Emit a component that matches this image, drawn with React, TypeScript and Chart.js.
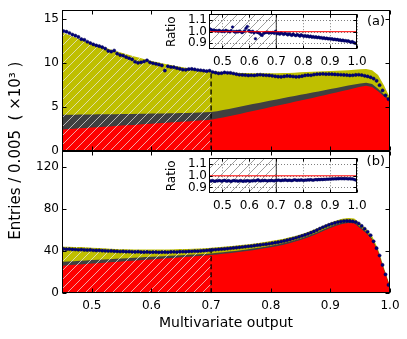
import { useEffect, useRef } from "react";
import { Chart, registerables } from "chart.js";

Chart.register(...registerables);

// ---------------- data ----------------
const mcX = [
  0.45, 0.46, 0.47, 0.48, 0.49, 0.50, 0.51, 0.52, 0.53, 0.54,
  0.55, 0.56, 0.57, 0.58, 0.59, 0.60, 0.61, 0.62, 0.63, 0.64,
  0.65, 0.66, 0.67, 0.68, 0.69, 0.70, 0.71, 0.72, 0.73, 0.74,
  0.75, 0.76, 0.77, 0.78, 0.79, 0.80, 0.81, 0.82, 0.83, 0.84,
  0.85, 0.86, 0.87, 0.88, 0.89, 0.90, 0.91, 0.92, 0.93, 0.94,
  0.95, 0.96, 0.97, 0.98, 0.99, 1.00,
];

// panel (a), units of 10^3 entries
const aSignal = [
  2.40, 2.44, 2.48, 2.53, 2.57, 2.62, 2.66, 2.70, 2.75, 2.79,
  2.84, 2.88, 2.92, 2.97, 3.01, 3.06, 3.10, 3.14, 3.19, 3.23,
  3.28, 3.32, 3.37, 3.41, 3.46, 3.52, 3.64, 3.77, 3.91, 4.05,
  4.20, 4.35, 4.50, 4.65, 4.80, 4.95, 5.10, 5.25, 5.40, 5.55,
  5.70, 5.85, 6.00, 6.15, 6.30, 6.46, 6.62, 6.78, 6.94, 7.10,
  7.26, 7.38, 7.25, 6.75, 6.15, 5.65,
];
const aBkgDark = [
  1.68, 1.64, 1.60, 1.57, 1.53, 1.49, 1.46, 1.42, 1.39, 1.35,
  1.32, 1.28, 1.25, 1.22, 1.18, 1.15, 1.12, 1.09, 1.06, 1.03,
  1.00, 0.97, 0.94, 0.92, 0.89, 0.86, 0.85, 0.84, 0.83, 0.82,
  0.81, 0.80, 0.79, 0.77, 0.76, 0.75, 0.73, 0.71, 0.69, 0.67,
  0.65, 0.63, 0.61, 0.59, 0.57, 0.55, 0.52, 0.49, 0.46, 0.42,
  0.38, 0.35, 0.32, 0.28, 0.24, 0.20,
];
const aBkgOlive = [
  9.37, 9.12, 8.87, 8.60, 8.35, 8.09, 7.88, 7.66, 7.42, 7.21,
  6.99, 6.79, 6.59, 6.38, 6.20, 6.01, 5.84, 5.68, 5.52, 5.38,
  5.24, 5.12, 5.00, 4.89, 4.79, 4.69, 4.52, 4.35, 4.18, 4.01,
  3.84, 3.68, 3.52, 3.38, 3.24, 3.10, 2.98, 2.87, 2.76, 2.66,
  2.56, 2.46, 2.36, 2.26, 2.16, 2.05, 1.95, 1.85, 1.76, 1.68,
  1.62, 1.57, 1.58, 1.57, 1.01, 0.15,
];
const aData = [
  13.62, 13.55, 13.40, 13.22, 13.10, 12.95, 12.70, 12.62, 12.40, 12.25,
  12.10, 11.98, 11.90, 11.78, 11.62, 11.35, 11.28, 11.40, 11.05, 10.88,
  10.82, 10.66, 10.52, 10.40, 10.12, 10.00, 10.05, 10.15, 10.28, 10.05,
  9.95, 9.88, 9.80, 9.70, 9.12, 9.60, 9.52, 9.50, 9.40, 9.32,
  9.22, 9.20, 9.28, 9.30, 9.25, 9.18, 9.15, 9.10, 9.05, 9.10,
  8.95, 8.88, 8.80, 8.82, 8.90, 8.86, 8.85, 8.78, 8.70, 8.64,
  8.62, 8.60, 8.56, 8.58, 8.56, 8.62, 8.64, 8.60, 8.58, 8.56,
  8.52, 8.46, 8.42, 8.40, 8.45, 8.50, 8.48, 8.44, 8.40, 8.42,
  8.48, 8.56, 8.60, 8.58, 8.66, 8.70, 8.72, 8.74, 8.70, 8.72,
  8.70, 8.68, 8.66, 8.64, 8.62, 8.60, 8.56, 8.58, 8.62, 8.64,
  8.60, 8.52, 8.45, 8.35, 8.20, 7.95, 7.45, 6.85, 6.30, 5.85,
];
const aRatio = [
  1.025, 1.018, 1.012, 1.015, 1.008, 1.010, 1.004, 1.012, 1.006, 1.002,
  1.008, 1.000, 1.012, 1.006, 1.004, 0.998, 1.010, 1.040, 1.002, 0.996,
  1.004, 0.998, 1.006, 1.000, 0.992, 0.998, 1.008, 1.030, 1.045, 1.010,
  1.002, 0.996, 1.004, 0.990, 0.940, 0.996, 0.992, 0.986, 0.975, 0.968,
  0.985, 0.990, 0.994, 0.996, 0.988, 0.992, 0.990, 0.994, 0.986, 1.004,
  0.982, 0.988, 0.978, 0.990, 0.984, 0.976, 0.986, 0.980, 0.972, 0.982,
  0.975, 0.968, 0.980, 0.972, 0.966, 0.976, 0.970, 0.962, 0.974, 0.966,
  0.960, 0.968, 0.958, 0.964, 0.955, 0.962, 0.952, 0.958, 0.950, 0.956,
  0.948, 0.954, 0.946, 0.950, 0.942, 0.948, 0.940, 0.945, 0.938, 0.942,
  0.936, 0.940, 0.932, 0.936, 0.930, 0.934, 0.926, 0.930, 0.922, 0.928,
  0.920, 0.924, 0.918, 0.922, 0.914, 0.910, 0.915, 0.906, 0.902, 0.900,
];

// panel (b)
const bSignal = [
  26.3, 26.7, 27.1, 27.5, 27.9, 28.3, 28.7, 29.1, 29.5, 29.9,
  30.3, 30.7, 31.1, 31.5, 31.9, 32.3, 32.7, 33.1, 33.5, 33.9,
  34.3, 34.7, 35.1, 35.5, 35.9, 36.4, 37.0, 37.6, 38.2, 38.8,
  39.5, 40.2, 41.0, 41.9, 42.8, 43.8, 44.9, 46.1, 47.5, 49.0,
  50.7, 52.6, 54.8, 57.2, 59.7, 62.2, 64.4, 66.0, 66.9, 66.6,
  62.0, 57.5, 51.0, 39.5, 22.0, 6.0,
];
const bBkgDark = [
  3.7, 3.6, 3.5, 3.4, 3.4, 3.3, 3.2, 3.1, 3.0, 3.0,
  2.9, 2.8, 2.7, 2.6, 2.6, 2.5, 2.4, 2.3, 2.2, 2.1,
  2.0, 1.9, 1.8, 1.7, 1.6, 1.6, 1.6, 1.6, 1.6, 1.6,
  1.6, 1.6, 1.6, 1.6, 1.6, 1.6, 1.6, 1.6, 1.6, 1.5,
  1.5, 1.5, 1.5, 1.5, 1.5, 1.4, 1.4, 1.4, 1.3, 1.3,
  1.2, 1.1, 1.0, 0.8, 0.6, 0.3,
];
const bBkgOlive = [
  14.4, 14.0, 13.6, 13.1, 12.5, 11.8, 11.2, 10.6, 10.0, 9.4,
  8.8, 8.4, 8.0, 7.6, 7.2, 6.9, 6.6, 6.3, 6.1, 5.9,
  5.8, 5.7, 5.6, 5.5, 5.4, 5.3, 5.2, 5.1, 5.0, 4.9,
  4.8, 4.7, 4.6, 4.5, 4.4, 4.3, 4.2, 4.1, 4.0, 3.9,
  3.8, 3.8, 3.7, 3.7, 3.6, 3.6, 3.5, 3.5, 3.4, 3.4,
  3.2, 2.9, 2.5, 2.0, 1.4, 0.6,
];
const bData = [
  42.3, 42.0, 42.1, 41.8, 41.7, 41.5, 41.6, 41.3, 41.2, 41.3,
  41.0, 40.8, 40.9, 40.6, 40.5, 40.3, 40.4, 40.1, 40.0, 39.8,
  39.9, 39.6, 39.7, 39.5, 39.4, 39.6, 39.3, 39.2, 39.4, 39.1,
  39.2, 39.3, 39.0, 39.2, 39.3, 39.1, 39.4, 39.5, 39.3, 39.6,
  39.7, 39.6, 39.9, 40.0, 40.2, 40.1, 40.4, 40.6, 40.8, 41.1,
  41.4, 41.6, 41.9, 42.1, 42.3, 42.6, 42.9, 43.2, 43.5, 43.8,
  44.1, 44.4, 44.7, 45.0, 45.4, 45.8, 46.1, 46.5, 46.8, 47.2,
  47.7, 48.2, 48.7, 49.3, 49.9, 50.6, 51.3, 52.1, 52.9, 53.8,
  54.7, 55.6, 56.6, 57.7, 58.9, 60.2, 61.6, 62.9, 64.1, 65.2,
  66.2, 67.0, 67.8, 68.4, 68.8, 69.0, 68.9, 68.6, 67.9, 66.5,
  64.2, 61.5, 58.6, 55.3, 49.5, 43.0, 36.0, 27.0, 18.0, 8.0,
];
const bRatio = [
  0.958, 0.954, 0.960, 0.956, 0.952, 0.958, 0.955, 0.960, 0.957, 0.953,
  0.958, 0.962, 0.956, 0.954, 0.959, 0.955, 0.951, 0.957, 0.960, 0.955,
  0.958, 0.953, 0.956, 0.960, 0.955, 0.952, 0.957, 0.954, 0.959, 0.956,
  0.953, 0.958, 0.955, 0.960, 0.956, 0.961, 0.966, 0.958, 0.955, 0.960,
  0.957, 0.962, 0.958, 0.955, 0.960, 0.957, 0.961, 0.958, 0.956, 0.962,
  0.960, 0.964, 0.961, 0.958, 0.963, 0.960, 0.965, 0.962, 0.959, 0.963,
  0.961, 0.958, 0.962, 0.966, 0.963, 0.960, 0.964, 0.961, 0.965, 0.962,
  0.960, 0.964, 0.962, 0.966, 0.963, 0.967, 0.964, 0.962, 0.966, 0.968,
  0.965, 0.969, 0.966, 0.970, 0.967, 0.971, 0.968, 0.972, 0.970, 0.973,
  0.971, 0.974, 0.972, 0.975, 0.973, 0.976, 0.974, 0.977, 0.975, 0.976,
  0.974, 0.977, 0.975, 0.973, 0.976, 0.972, 0.974, 0.970, 0.966, 0.962,
];

const xTicks = [0.5, 0.6, 0.7, 0.8, 0.9, 1.0];
const yTicksA = [0, 5, 10, 15];
const yTicksB = [0, 40, 80, 120];
const ratioTicks = [0.9, 1.0, 1.1];

const X_MIN = 0.45;
const X_MAX = 1.0;
const BIN_WIDTH = 0.005;
const CUT = 0.7;
const Y_MAX_A = 16;
const Y_MAX_B = 136;
const RATIO_MIN = 0.85;
const RATIO_MAX = 1.15;
const RATIO_REF = 1.0;
const Y_TITLE = "Entries / 0.005  ( \u00d710\u00b3 )";
const X_TITLE = "Multivariate output";

// ---------------- layout / style ----------------
const W = 407;
const H = 339;
const FONT = "'DejaVu Sans'";
const RED = "#ff0000";
const DARK = "#404040";
const OLIVE = "#bfbf00";
const NAVY = "#000080";
const PLOT_L = 62;
const PLOT_R = 390;
const TOP_A = 8;
const MID = 150.5;
const BOT_B = 293.3;

const binCenters = aData.map((_, i) => +(X_MIN + BIN_WIDTH * (i + 0.5)).toFixed(4));
const xy = (xs: number[], ys: number[]) => xs.map((x, i) => ({ x, y: ys[i] }));
const cumulate = (...arrs: number[][]) => arrs[0].map((_, i) => arrs.reduce((s, a) => s + a[i], 0));

function makeHatch(color: string, size: number) {
  const c = document.createElement("canvas");
  c.width = size;
  c.height = size;
  const g = c.getContext("2d")!;
  g.strokeStyle = color;
  g.lineWidth = 1;
  g.beginPath();
  g.moveTo(0, size);
  g.lineTo(size, 0);
  g.moveTo(-size / 2, size / 2);
  g.lineTo(size / 2, -size / 2);
  g.moveTo(size / 2, size * 1.5);
  g.lineTo(size * 1.5, size / 2);
  g.stroke();
  return g.createPattern(c, "repeat")!;
}

function decor(o: any) {
  return {
    id: "decor",
    beforeDatasetsDraw(chart: any) {
      const { ctx, chartArea: a, scales } = chart;
      ctx.save();
      if (o.bg) {
        ctx.fillStyle = "#fff";
        ctx.fillRect(a.left, a.top, a.right - a.left, a.bottom - a.top);
      }
      if (o.grid) {
        ctx.strokeStyle = "#808080";
        ctx.lineWidth = 1;
        ctx.setLineDash([1, 2]);
        ctx.beginPath();
        for (const v of o.xTicks) {
          const p = Math.round(scales.x.getPixelForValue(v)) + 0.5;
          ctx.moveTo(p, a.top);
          ctx.lineTo(p, a.bottom);
        }
        for (const v of o.yTicks) {
          const p = Math.round(scales.y.getPixelForValue(v)) + 0.5;
          ctx.moveTo(a.left, p);
          ctx.lineTo(a.right, p);
        }
        ctx.stroke();
      }
      ctx.restore();
    },
    afterDatasetsDraw(chart: any) {
      const { ctx, chartArea: a, scales } = chart;
      const L = Math.round(a.left) + 0.5;
      const R = Math.round(a.right) - 0.5;
      const T = Math.round(a.top) + 0.5;
      const B = Math.round(a.bottom) - 0.5;
      ctx.save();
      ctx.strokeStyle = "#000";
      ctx.lineWidth = 1;
      ctx.setLineDash([]);
      ctx.strokeRect(L, T, R - L, B - T);
      ctx.beginPath();
      const t = o.tick;
      for (const v of o.xTicks) {
        const p = Math.round(scales.x.getPixelForValue(v)) + 0.5;
        ctx.moveTo(p, B);
        ctx.lineTo(p, B - t);
        ctx.moveTo(p, T);
        ctx.lineTo(p, T + t);
      }
      for (const v of o.yTicks) {
        const p = Math.round(scales.y.getPixelForValue(v)) + 0.5;
        ctx.moveTo(L, p);
        ctx.lineTo(L + t, p);
        ctx.moveTo(R, p);
        ctx.lineTo(R - t, p);
      }
      ctx.stroke();
      ctx.fillStyle = "#000";
      if (o.tag) {
        ctx.font = `13px ${FONT}`;
        ctx.textAlign = "right";
        ctx.textBaseline = "middle";
        ctx.fillText(o.tag, a.right - 5, a.top + 11);
      }
      if (o.yTitle) {
        ctx.font = `15px ${FONT}`;
        ctx.textAlign = "center";
        ctx.textBaseline = "middle";
        ctx.translate(16, (TOP_A + a.bottom) / 2);
        ctx.rotate(-Math.PI / 2);
        ctx.fillText(o.yTitle, 0, 0);
      }
      ctx.restore();
    },
  };
}

const tickFont = { family: FONT, size: 12 };

function mainConfig(which: "a" | "b", hatch: CanvasPattern): any {
  const isA = which === "a";
  const sig = isA ? aSignal : bSignal;
  const dark = isA ? aBkgDark : bBkgDark;
  const olive = isA ? aBkgOlive : bBkgOlive;
  const data = isA ? aData : bData;
  const yTicks = isA ? yTicksA : yTicksB;
  const t1 = sig;
  const t2 = cumulate(sig, dark);
  const t3 = cumulate(sig, dark, olive);
  const cutIdx = mcX.findIndex((x) => Math.abs(x - CUT) < 1e-9);
  const area = { borderWidth: 0, borderColor: "transparent", pointRadius: 0, tension: 0 };
  return {
    type: "line",
    data: {
      datasets: [
        { ...area, data: xy(mcX, t3), fill: "origin", backgroundColor: OLIVE, order: 9 },
        { ...area, data: xy(mcX, t2), fill: "origin", backgroundColor: DARK, order: 8 },
        { ...area, data: xy(mcX, t1), fill: "origin", backgroundColor: RED, order: 7 },
        {
          ...area,
          data: xy(mcX.slice(0, cutIdx + 1), t3.slice(0, cutIdx + 1)),
          fill: "origin",
          backgroundColor: hatch,
          order: 6,
        },
        {
          data: [
            { x: CUT, y: 0 },
            { x: CUT, y: t3[cutIdx] },
          ],
          fill: false,
          borderColor: "#000",
          borderWidth: 1.3,
          borderDash: [5, 3],
          pointRadius: 0,
          order: 5,
        },
        {
          data: xy(binCenters, data),
          showLine: false,
          fill: false,
          pointRadius: 1.6,
          pointBackgroundColor: NAVY,
          pointBorderColor: "#000050",
          pointBorderWidth: 0.5,
          order: 1,
        },
      ],
    },
    options: {
      animation: false,
      responsive: false,
      events: [],
      layout: {
        padding: isA
          ? { left: 0, top: TOP_A, right: W - PLOT_R, bottom: H - MID }
          : { left: 0, top: MID, right: W - PLOT_R, bottom: 0 },
      },
      plugins: { legend: { display: false }, tooltip: { enabled: false } },
      scales: {
        x: {
          type: "linear",
          min: X_MIN,
          max: X_MAX,
          display: !isA,
          afterBuildTicks: (s: any) => {
            s.ticks = xTicks.map((v) => ({ value: v }));
          },
          afterFit: (s: any) => {
            s.height = isA ? 0 : H - BOT_B;
          },
          grid: { display: false, drawTicks: false, tickLength: 0 },
          border: { display: false },
          ticks: {
            padding: 5,
            color: "#000",
            font: tickFont,
            maxRotation: 0,
            callback: (v: any) => Number(v).toFixed(1),
          },
          title: {
            display: !isA,
            text: X_TITLE,
            color: "#000",
            font: { family: FONT, size: 14 },
            padding: { top: 0, bottom: 7 },
          },
        },
        y: {
          type: "linear",
          min: 0,
          max: isA ? Y_MAX_A : Y_MAX_B,
          afterBuildTicks: (s: any) => {
            s.ticks = yTicks.map((v) => ({ value: v }));
          },
          afterFit: (s: any) => {
            s.width = PLOT_L;
          },
          grid: { display: false, drawTicks: false, tickLength: 0 },
          border: { display: false },
          ticks: { padding: 3, color: "#000", font: tickFont },
        },
      },
    },
    plugins: [
      decor({
        xTicks,
        yTicks,
        tick: 4,
        tag: isA ? "(a)" : "(b)",
        yTitle: isA ? undefined : Y_TITLE,
      }),
    ],
  };
}

function insetConfig(which: "a" | "b", hatch: CanvasPattern): any {
  const ratio = which === "a" ? aRatio : bRatio;
  const top = which === "a" ? 14.2 : 158.3;
  const plotH = 35;
  const xAxisH = 21;
  return {
    type: "line",
    data: {
      datasets: [
        {
          data: [
            { x: X_MIN, y: RATIO_MAX },
            { x: CUT, y: RATIO_MAX },
          ],
          fill: "start",
          backgroundColor: hatch,
          borderWidth: 0,
          borderColor: "transparent",
          pointRadius: 0,
          order: 9,
        },
        {
          data: [
            { x: CUT, y: RATIO_MIN },
            { x: CUT, y: RATIO_MAX },
          ],
          fill: false,
          borderColor: "#333",
          borderWidth: 1,
          pointRadius: 0,
          order: 8,
        },
        {
          data: xy(binCenters, ratio),
          showLine: false,
          fill: false,
          pointRadius: 1.3,
          pointBackgroundColor: NAVY,
          pointBorderColor: "#000050",
          pointBorderWidth: 0.5,
          order: 3,
        },
        {
          data: [
            { x: X_MIN, y: RATIO_REF },
            { x: X_MAX, y: RATIO_REF },
          ],
          fill: false,
          borderColor: RED,
          borderWidth: 1,
          pointRadius: 0,
          order: 2,
        },
      ],
    },
    options: {
      animation: false,
      responsive: false,
      events: [],
      layout: {
        padding: { left: 160, top, right: W - 357, bottom: H - top - plotH - xAxisH },
      },
      plugins: { legend: { display: false }, tooltip: { enabled: false } },
      scales: {
        x: {
          type: "linear",
          min: X_MIN,
          max: X_MAX,
          afterBuildTicks: (s: any) => {
            s.ticks = xTicks.map((v) => ({ value: v }));
          },
          afterFit: (s: any) => {
            s.height = xAxisH;
          },
          grid: { display: false, drawTicks: false, tickLength: 0 },
          border: { display: false },
          ticks: {
            padding: 5,
            color: "#000",
            font: tickFont,
            maxRotation: 0,
            autoSkip: false,
            callback: (v: any) => Number(v).toFixed(1),
          },
        },
        y: {
          type: "linear",
          min: RATIO_MIN,
          max: RATIO_MAX,
          afterBuildTicks: (s: any) => {
            s.ticks = ratioTicks.map((v) => ({ value: v }));
          },
          afterFit: (s: any) => {
            s.width = 49;
          },
          grid: { display: false, drawTicks: false, tickLength: 0 },
          border: { display: false },
          ticks: {
            padding: 2,
            color: "#000",
            font: tickFont,
            callback: (v: any) => Number(v).toFixed(1),
          },
          title: {
            display: true,
            text: "Ratio",
            color: "#000",
            font: { family: FONT, size: 12 },
            padding: { top: 5, bottom: 0 },
          },
        },
      },
    },
    plugins: [decor({ xTicks, yTicks: ratioTicks, tick: 3, bg: true, grid: true })],
  };
}

export default function App() {
  const r1 = useRef<HTMLCanvasElement>(null);
  const r2 = useRef<HTMLCanvasElement>(null);
  const r3 = useRef<HTMLCanvasElement>(null);
  const r4 = useRef<HTMLCanvasElement>(null);

  useEffect(() => {
    const hatchMain = makeHatch("rgba(235,235,235,0.7)", 9);
    const hatchInset = makeHatch("#a0a0a0", 9);
    const charts = [
      new Chart(r1.current!, mainConfig("a", hatchMain)),
      new Chart(r2.current!, mainConfig("b", hatchMain)),
      new Chart(r3.current!, insetConfig("a", hatchInset)),
      new Chart(r4.current!, insetConfig("b", hatchInset)),
    ];
    return () => charts.forEach((c) => c.destroy());
  }, []);

  const st: any = { position: "absolute", left: 0, top: 0 };
  return (
    <div style={{ position: "fixed", left: 0, top: 0, width: W, height: H, background: "#fff" }}>
      <canvas ref={r1} width={W} height={H} style={st} />
      <canvas ref={r2} width={W} height={H} style={st} />
      <canvas ref={r3} width={W} height={H} style={st} />
      <canvas ref={r4} width={W} height={H} style={st} />
    </div>
  );
}
